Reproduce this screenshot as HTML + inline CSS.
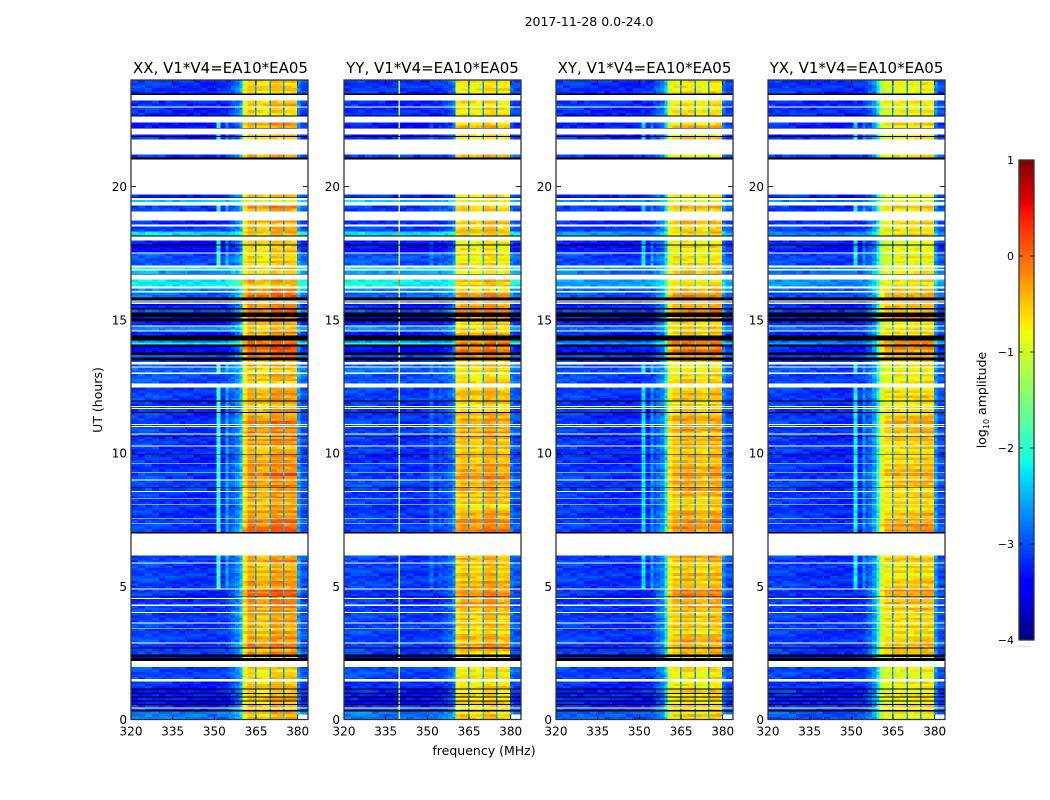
<!DOCTYPE html>
<html lang="en">
<head>
<meta charset="utf-8">
<title>2017-11-28 0.0-24.0</title>
<style>
html,body{margin:0;padding:0;background:#fff;width:1050px;height:800px;overflow:hidden}
svg{display:block}
text{font-family:"DejaVu Sans","Liberation Sans",sans-serif;fill:#000}
.tick{font-size:12px}
.ttl{font-size:15px;text-anchor:middle}
.lab{font-size:12.5px;text-anchor:middle}
</style>
</head>
<body>
<svg id="fig" width="1050" height="800" viewBox="0 0 1050 800" xmlns="http://www.w3.org/2000/svg">
  <text x="589" y="26" class="lab">2017-11-28 0.0-24.0</text>
  <text x="220.5" y="73" class="ttl">XX, V1*V4=EA10*EA05</text>
  <text x="432.5" y="73" class="ttl">YY, V1*V4=EA10*EA05</text>
  <text x="644.5" y="73" class="ttl">XY, V1*V4=EA10*EA05</text>
  <text x="856.5" y="73" class="ttl">YX, V1*V4=EA10*EA05</text>
  <text class="lab" transform="translate(102,400) rotate(-90)">UT (hours)</text>
  <text x="484" y="755" class="lab">frequency (MHz)</text>
  <text class="lab" transform="translate(986,400) rotate(-90)">log<tspan font-size="8" dy="3">10</tspan><tspan dy="-3"> amplitude</tspan></text>
  <text x="1017" y="647" style="font-size:6px;fill:#777;letter-spacing:.4px">......</text>
  <g id="panels"></g>
  <g id="cbar"></g>
</svg>
<script>
// ---- Axis ticks ----
const xTickValues = [320, 335, 350, 365, 380];
const yTickValues = [0, 5, 10, 15, 20];
const cbarTickValues = [1, 0, -1, -2, -3, -4];
const freqMin = 320, freqMax = 383.7, utMin = 0, utMax = 24, cbarMin = -4, cbarMax = 1;

// ---- Frequency columns (MHz edges) ----
const colEdges = [320,322.5,325,327.5,330,332.5,335,337.5,339.6,340.1,342.5,345,347.5,350.7,352.2,354,355,356,357.5,359,360.2,362,364.7,365.2,367.5,369.8,370.3,372.5,374.7,375.2,377.5,379.8,381,383.7];

// ---- Time rows: start UT (top edge, hours) with low-band and high-band log10 amplitude.
//      null = flagged white gap, -99 = black row ----
const rowTopUT = [
 24,23.488,23.431,23.225,23.011,22.973,22.662,22.636,22.399,22.2,
 22.174,21.949,21.9,21.863,21.773,21.199,21.098,21.022,19.698,19.597,
 19.574,19.492,19.417,19.285,19.06,18.722,18.572,18.497,18.31,18.16,
 18.122,17.972,17.822,17.784,17.522,17.484,17.034,16.959,16.903,16.846,
 16.723,16.696,16.509,16.246,16.171,16.077,16.021,15.833,15.721,15.683,
 15.646,15.597,15.533,15.447,15.383,15.271,15.102,15.046,14.944,14.783,
 14.745,14.595,14.558,14.408,14.22,14.145,14.07,13.995,13.781,13.684,
 13.593,13.481,13.413,13.327,13.245,13.207,13.019,12.963,12.607,12.468,
 12.344,11.969,11.931,11.762,11.725,11.695,11.657,11.545,11.507,11.294,
 11.095,11.057,11.02,10.982,10.731,10.693,10.644,10.618,10.28,10.243,
 9.969,9.943,9.631,9.605,9.294,9.267,9.136,9.005,8.967,8.731,
 8.705,8.581,8.543,8.292,8.266,8.093,8.067,7.842,7.568,7.542,
 7.38,7.354,7.042,6.979,6.153,5.891,5.853,5.59,5.29,4.915,
 4.878,4.641,4.615,4.551,4.514,4.315,4.266,4.026,3.996,3.639,
 3.602,3.441,3.414,3.114,2.889,2.852,2.701,2.664,2.439,2.345,
 2.307,2.187,1.962,1.512,1.426,1.163,1.126,1.002,0.964,0.863,
 0.825,0.713,0.675,0.574,0.537,0.45,0.413,0.349,0.3
];
const rowLow = [
 -3.05,-99,null,-3.1,null,-3.1,-99,null,-3.2,-99,
 null,-3.2,-99,-3.1,null,-3,-99,null,-3.1,-99,
 null,-2.3,null,-3,null,-3.1,null,-3,-2.2,-99,
 null,-3.2,-99,-3.3,null,-2.9,null,-2.1,null,-2.5,
 -99,null,-2.1,null,-2.6,null,-2.8,-99,null,-2.9,
 null,-3.3,-3.1,-99,-2.9,-99,-3.3,-99,-3.2,null,
 -2.6,null,-3.2,-99,-2.7,-2,-99,-3.3,-99,-2.9,
 -99,-3,null,-2.9,null,-2.8,null,-2.9,null,-3,
 -3,-99,-3.05,null,-3.05,null,-3.05,-99,-3.05,-3,
 null,-3,null,-3,null,-3,-99,-3.05,null,-3.05,
 -99,-3.1,null,-3.05,null,-3,-3,null,-2.95,-99,
 -3,null,-3.05,null,-3.05,null,-3.05,-3.05,null,-3,
 null,-3,-99,null,-3,null,-3,-3,-3,null,
 -3.05,-99,-3.05,null,-3.05,null,-3,null,-3,null,
 -3,null,-3,-3,null,-3,-99,-3,-99,-3.3,
 -99,null,-2.95,null,-3.1,-99,-3.2,-99,-3.2,-99,
 -3.2,-99,-3.3,-99,-3.1,null,-3,-99,-2.7
];
const rowHigh = [
 -0.6,-99,null,-0.55,null,-0.6,-99,null,-0.4,-99,
 null,-0.5,-99,-0.5,null,-0.5,-99,null,-0.5,-99,
 null,-0.7,null,-0.35,null,-0.4,null,-0.4,-0.45,-99,
 null,-0.65,-99,-0.6,null,-0.6,null,-0.5,null,-0.45,
 -99,null,-0.45,null,-0.4,null,-0.05,-99,null,-0.3,
 null,-0.2,-0.2,-99,-0.1,-99,-0.1,-99,-0.5,null,
 -0.45,null,-0.3,-99,-0.1,0.1,-99,0,-99,-0.1,
 -99,-0.4,null,-0.5,null,-0.55,null,-0.5,null,-0.4,
 -0.35,-99,-0.5,null,-0.5,null,-0.4,-99,-0.35,-0.15,
 null,-0.3,null,-0.2,null,-0.4,-99,-0.3,null,-0.4,
 -99,-0.35,null,-0.25,null,-0.05,-0.15,null,-0.25,-99,
 -0.3,null,-0.3,null,-0.4,null,-0.45,-0.25,null,-0.1,
 null,-0.05,-99,null,-0.3,null,-0.45,-0.4,-0.3,null,
 -0.05,-99,-0.2,null,-0.15,null,-0.3,null,-0.4,null,
 -0.4,null,-0.45,-0.25,null,-0.2,-99,-0.35,-99,-0.7,
 -99,null,-0.6,null,-0.55,-99,-0.5,-99,-0.5,-99,
 -0.5,-99,-0.5,-99,-0.5,null,-0.5,-99,-0.5
];

// ---- Narrow RFI stripes: UT intervals in which they switch on ----
const rfiFromUT = [4.9, 7.0, 13.0, 17.0, 19.05, 21.76, 22.2];
const rfiToUT   = [6.2, 12.6, 13.4, 18.0, 19.3, 21.95, 22.4];

// ---- Per-panel channel profiles (one entry per frequency column) ----
const xxOffset = [.05,.06,.08,.06,0,.02,-.02,-.02,-.02,-.03,-.03,-.05,-.05,0,-.02,0,0,0,0,0,0,.05,0,-.08,-.1,0,.12,.1,0,.05,.08,0,0];
const yyOffset = [.05,.06,.08,.06,.02,.02,0,0,2.1,0,0,-.02,-.02,0,0,0,0,0,0,0,0,0,0,-.05,-.1,0,.1,.1,0,-.05,-.02,0,0];
const xyOffset = [.06,.05,.05,.05,0,0,-.02,-.02,0,-.03,-.03,-.05,-.05,0,-.02,0,0,0,0,0,0,-.05,0,.05,.05,0,-.05,-.08,0,.05,.05,0,0];
const yxOffset = [.06,.05,.05,.05,0,0,-.02,-.02,0,-.03,-.03,-.05,-.05,0,-.02,0,0,0,0,0,0,-.08,0,.02,0,0,.02,.04,0,.08,.08,0,0];
const xxWeight = [0,0,0,0,0,0,0,0,0,0,0,0,0,0,0,0,.04,.08,.14,.25,.88,1,.2,1,1,.2,1,1,.2,1,1,.18,.05];
const yyWeight = [0,0,0,0,0,0,0,0,0,0,0,0,0,0,0,0,.02,.04,.08,.16,.95,1,.2,1,1,.2,1,1,.2,1,1,.1,.05];
const xyWeight = [0,0,0,0,0,0,0,0,0,0,0,0,0,0,0,0,.05,.1,.15,.33,.9,1,.2,1,1,.2,1,1,.2,1,1,.15,.05];
const yxWeight = [0,0,0,0,0,0,0,0,0,0,0,0,0,0,0,0,.05,.1,.2,.4,.85,1,.2,1,1,.2,1,1,.2,1,1,.2,.05];
const xxRfi = [0,0,0,0,0,0,0,0,0,0,0,0,0,1.2,0,.55,0,0,0,0,0,0,0,0,0,0,0,0,0,0,0,0,0];
const yyRfi = [0,0,0,0,0,0,0,0,0,0,0,0,0,.25,0,.15,0,0,0,0,0,0,0,0,0,0,0,0,0,0,0,0,0];
const xyRfi = [0,0,0,0,0,0,0,0,0,0,0,0,0,.85,0,.45,0,0,0,0,0,0,0,0,0,0,0,0,0,0,0,0,0];
const yxRfi = [0,0,0,0,0,0,0,0,0,0,0,0,0,.95,0,.45,0,0,0,0,0,0,0,0,0,0,0,0,0,0,0,0,0];

// ---- Per-panel levels ----
const panelNames = ['xx','yy','xy','yx'];
const panelLowGain = [1, 1, .6, .5];
const panelLowShift = [-.1, -.1, -.12, -.12];
const panelHighShift = [0, -.1, -.12, -.25];
const panelOffsets = [xxOffset, yyOffset, xyOffset, yxOffset];
const panelWeights = [xxWeight, yyWeight, xyWeight, yxWeight];
const panelRfis = [xxRfi, yyRfi, xyRfi, yxRfi];
const panelLefts = [131, 344, 556, 768];

// fine amplitude texture seen across cells
const grainValues = [.08,-.11,.03,.12,-.06,-.02,.1,-.13,.05,-.08,.14,-.03,.01,-.12,.09,.04,-.09,.13,-.05,.07,-.14,.02,-.01];

// white corner at the bottom right of each panel
const cornerGapFromMHz = 380, cornerGapToUT = 0.18;

const SVG_NS = 'http://www.w3.org/2000/svg';
const panelWidth = 177, plotTop = 80, plotBottom = 719.5, subRowPx = 2.5;
function xScale(left, mhz){ return left + (mhz - freqMin) / (freqMax - freqMin) * panelWidth; }
function yScale(ut){ return plotBottom - (ut - utMin) / (utMax - utMin) * (plotBottom - plotTop); }
const cbarLeft = 1019, cbarRight = 1034, cbarTop = 160, cbarBottom = 640;
function cbarScale(v){ return cbarBottom - (v - cbarMin) / (cbarMax - cbarMin) * (cbarBottom - cbarTop); }

function ramp(t, a, b){ return Math.max(0, Math.min(1, (t - a) / (b - a))); }
function jet(v){
  const t = Math.max(0, Math.min(1, (v - cbarMin) / (cbarMax - cbarMin)));
  const r = t < .89 ? ramp(t, .35, .66) : 1 - .5 * ramp(t, .89, 1);
  const g = t < .64 ? ramp(t, .125, .375) : 1 - ramp(t, .64, .91);
  const b = t < .34 ? .5 + .5 * ramp(t, 0, .11) : 1 - ramp(t, .34, .65);
  return 'rgb(' + Math.round(r * 255) + ',' + Math.round(g * 255) + ',' + Math.round(b * 255) + ')';
}
function rfiOn(top, bottom){
  const mid = (top + bottom) / 2;
  return rfiFromUT.some(function(from, i){ return mid >= from && mid <= rfiToUT[i]; });
}

const panelsRoot = document.getElementById('panels');
panelNames.forEach(function(name, p){
  const left = panelLefts[p];
  const group = document.createElementNS(SVG_NS, 'g');
  
  
  const heat = document.createElementNS(SVG_NS, 'g');
  
  
  heat.setAttribute('shape-rendering', 'crispEdges');
  group.appendChild(heat);

  let subRow = p * 3;
  rowTopUT.forEach(function(topUT, r){
    const low = rowLow[r], high = rowHigh[r];
    if (low === null) return;
    const bottomUT = r + 1 < rowTopUT.length ? rowTopUT[r + 1] : utMin;
    const y0 = yScale(topUT), y1 = yScale(bottomUT);
    if (low === -99) {
      const bad = document.createElementNS(SVG_NS, 'rect');
      
      
      bad.setAttribute('x', xScale(left, freqMin));
      bad.setAttribute('y', y0);
      bad.setAttribute('width', panelWidth);
      bad.setAttribute('height', y1 - y0);
      bad.setAttribute('fill', '#000');
      heat.appendChild(bad);
      return;
    }
    const pLow = -3 + (low + 3) * panelLowGain[p] + panelLowShift[p];
    const pHigh = high + panelHighShift[p];
    const on = rfiOn(topUT, bottomUT);
    const parts = Math.max(1, Math.round((y1 - y0) / subRowPx));
    for (let s = 0; s < parts; s++) {
      const sy0 = y0 + (y1 - y0) * s / parts;
      const sh = (y1 - y0) / parts;
      const stripe = grainValues[subRow % grainValues.length];
      panelWeights[p].forEach(function(w, c){
        const grain = grainValues[(subRow * 5 + c * 7) % grainValues.length] * (1.2 - .3 * w) + stripe * w * 1.5;
        const v = pLow + w * (pHigh - pLow) + panelOffsets[p][c] + (on ? panelRfis[p][c] : 0) + grain;
        const x0 = xScale(left, colEdges[c]), x1 = xScale(left, colEdges[c + 1]);
        const cell = document.createElementNS(SVG_NS, 'rect');
        
        
        cell.setAttribute('x', x0);
        cell.setAttribute('y', sy0);
        cell.setAttribute('width', x1 - x0);
        cell.setAttribute('height', sh);
        cell.setAttribute('fill', jet(v));
        heat.appendChild(cell);
      });
      subRow++;
    }
  });

  const corner = document.createElementNS(SVG_NS, 'rect');
  
  
  corner.setAttribute('x', xScale(left, cornerGapFromMHz));
  corner.setAttribute('y', yScale(cornerGapToUT));
  corner.setAttribute('width', xScale(left, freqMax) - xScale(left, cornerGapFromMHz));
  corner.setAttribute('height', yScale(utMin) - yScale(cornerGapToUT));
  corner.setAttribute('fill', '#fff');
  heat.appendChild(corner);

  xTickValues.forEach(function(value){
    const x = xScale(left, value);
    const t1 = document.createElementNS(SVG_NS, 'path');
    
    
    t1.setAttribute('d', 'M' + x + ' ' + plotBottom + 'v-5M' + x + ' ' + plotTop + 'v5');
    t1.setAttribute('stroke', '#000');
    t1.setAttribute('stroke-width', '0.8');
    group.appendChild(t1);
    const lab = document.createElementNS(SVG_NS, 'text');
    
    
    lab.setAttribute('class', 'tick');
    lab.setAttribute('x', x);
    lab.setAttribute('y', plotBottom + 16);
    lab.setAttribute('text-anchor', 'middle');
    lab.textContent = String(value);
    group.appendChild(lab);
  });
  yTickValues.forEach(function(value){
    const y = yScale(value);
    const t2 = document.createElementNS(SVG_NS, 'path');
    
    
    t2.setAttribute('d', 'M' + left + ' ' + y + 'h5M' + (left + panelWidth) + ' ' + y + 'h-5');
    t2.setAttribute('stroke', '#000');
    t2.setAttribute('stroke-width', '0.8');
    group.appendChild(t2);
    const lab = document.createElementNS(SVG_NS, 'text');
    
    
    lab.setAttribute('class', 'tick');
    lab.setAttribute('x', left - 4);
    lab.setAttribute('y', y + 4.5);
    lab.setAttribute('text-anchor', 'end');
    lab.textContent = String(value);
    group.appendChild(lab);
  });
  const frame = document.createElementNS(SVG_NS, 'rect');
  
  
  frame.setAttribute('x', left);
  frame.setAttribute('y', plotTop);
  frame.setAttribute('width', panelWidth);
  frame.setAttribute('height', plotBottom - plotTop);
  frame.setAttribute('fill', 'none');
  frame.setAttribute('stroke', '#333');
  frame.setAttribute('stroke-width', '1.3');
  group.appendChild(frame);
  panelsRoot.appendChild(group);
});

// ---- Colorbar ----
const cbarRoot = document.getElementById('cbar');


const cbarSteps = 240;
for (let i = 0; i < cbarSteps; i++) {
  const v0 = cbarMin + (cbarMax - cbarMin) * i / cbarSteps;
  const v1 = cbarMin + (cbarMax - cbarMin) * (i + 1) / cbarSteps;
  const step = document.createElementNS(SVG_NS, 'rect');
  
  
  step.setAttribute('x', cbarLeft);
  step.setAttribute('y', cbarScale(v1));
  step.setAttribute('width', cbarRight - cbarLeft);
  step.setAttribute('height', cbarScale(v0) - cbarScale(v1) + 0.5);
  step.setAttribute('fill', jet((v0 + v1) / 2));
  step.setAttribute('shape-rendering', 'crispEdges');
  cbarRoot.appendChild(step);
}
cbarTickValues.forEach(function(value){
  const y = cbarScale(value);
  const mark = document.createElementNS(SVG_NS, 'path');
  
  
  mark.setAttribute('d', 'M' + cbarLeft + ' ' + y + 'h4M' + cbarRight + ' ' + y + 'h-4');
  mark.setAttribute('stroke', '#000');
  mark.setAttribute('stroke-width', '0.8');
  cbarRoot.appendChild(mark);
  const lab = document.createElementNS(SVG_NS, 'text');
  
  
  lab.setAttribute('class', 'tick');
  lab.setAttribute('x', cbarLeft - 5);
  lab.setAttribute('y', y + 4);
  lab.setAttribute('text-anchor', 'end');
  lab.setAttribute('style', 'font-size:11px');
  lab.textContent = String(value).replace('-', '\u2212');
  cbarRoot.appendChild(lab);
});
const cbarFrame = document.createElementNS(SVG_NS, 'rect');


cbarFrame.setAttribute('x', cbarLeft);
cbarFrame.setAttribute('y', cbarTop);
cbarFrame.setAttribute('width', cbarRight - cbarLeft);
cbarFrame.setAttribute('height', cbarBottom - cbarTop);
cbarFrame.setAttribute('fill', 'none');
cbarFrame.setAttribute('stroke', '#333');
cbarFrame.setAttribute('stroke-width', '1.3');
cbarRoot.appendChild(cbarFrame);
</script>
</body>
</html>
